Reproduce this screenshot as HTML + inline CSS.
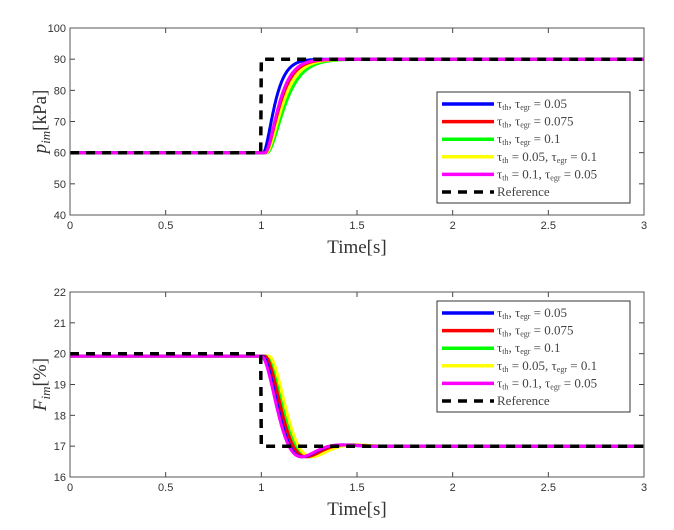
<!DOCTYPE html>
<html><head><meta charset="utf-8"><style>
body{margin:0;background:#fff;}
svg{display:block;font-family:"Liberation Sans",sans-serif;}
.t{font-size:11px;fill:#333;}
.s{font-family:"Liberation Serif",serif;}
</style></head><body>
<svg id="sv" width="674" height="530" viewBox="0 0 674 530">
<rect width="674" height="530" fill="#fff"/>
<g id="g"></g>
</svg>
<script>
(function(){
const NS="http://www.w3.org/2000/svg",G=document.getElementById('g');
function el(n,a,txt){const e=document.createElementNS(NS,n);for(const k in a)e.setAttribute(k,a[k]);if(txt!==undefined)e.textContent=txt;G.appendChild(e);return e;}
const X0=70,X1=644;const xs=t=>X0+t*(X1-X0)/3;
function axes(y0,y1,ymin,ymax,step,ylab,sub,unit){
  const ys=v=>y1-(v-ymin)/(ymax-ymin)*(y1-y0);
  for(let i=0;i<=6;i++){const t=i*0.5;const x=xs(t);el('line',{x1:x,x2:x,y1:y1,y2:y1-5,stroke:'#444'});el('line',{x1:x,x2:x,y1:y0,y2:y0+5,stroke:'#444'});
    el('text',{x:x,y:y1+14,'text-anchor':'middle',class:'t'},String(t));}
  for(let v=ymin;v<=ymax+1e-6;v+=step){const y=ys(v);el('line',{x1:X0,x2:X0+5,y1:y,y2:y,stroke:'#444'});el('line',{x1:X1,x2:X1-5,y1:y,y2:y,stroke:'#444'});
    el('text',{x:X0-4,y:y+4,'text-anchor':'end',class:'t'},String(v));}
  el('text',{x:357,y:y1+38,'text-anchor':'middle',class:'s','font-size':'19','fill':'#333'},'Time[s]');
  const tx=el('text',{transform:'translate(46,'+((y0+y1)/2)+') rotate(-90)','text-anchor':'middle',class:'s','font-size':'19',fill:'#333'});
  tx.innerHTML='<tspan font-style="italic">'+ylab+'</tspan><tspan font-style="italic" font-size="13" dy="4">'+sub+'</tspan><tspan dy="-4">['+unit+']</tspan>';
  return ys;
}
function path(f,ys,color,w,dash){let d='';for(let i=0;i<=900;i++){const t=i*3/900;d+=(i?'L':'M')+xs(t).toFixed(1)+','+ys(f(t)).toFixed(1);}
  const a={d:d,fill:'none',stroke:color,'stroke-width':w};if(dash)a['stroke-dasharray']=dash;el('path',a);}
function legend(y){
  el('rect',{x:437,y:y,width:193,height:111,fill:'#fff',stroke:'#333','stroke-width':1});
  const L=[['#0000ff','τ<tspan font-size="8" dy="2">th</tspan><tspan dy="-2">, τ</tspan><tspan font-size="8" dy="2">egr</tspan><tspan dy="-2"> = 0.05</tspan>'],
  ['#ff0000','τ<tspan font-size="8" dy="2">th</tspan><tspan dy="-2">, τ</tspan><tspan font-size="8" dy="2">egr</tspan><tspan dy="-2"> = 0.075</tspan>'],
  ['#00ff00','τ<tspan font-size="8" dy="2">th</tspan><tspan dy="-2">, τ</tspan><tspan font-size="8" dy="2">egr</tspan><tspan dy="-2"> = 0.1</tspan>'],
  ['#ffff00','τ<tspan font-size="8" dy="2">th</tspan><tspan dy="-2"> = 0.05, τ</tspan><tspan font-size="8" dy="2">egr</tspan><tspan dy="-2"> = 0.1</tspan>'],
  ['#ff00ff','τ<tspan font-size="8" dy="2">th</tspan><tspan dy="-2"> = 0.1, τ</tspan><tspan font-size="8" dy="2">egr</tspan><tspan dy="-2"> = 0.05</tspan>'],
  ['#000','Reference']];
  L.forEach((l,i)=>{const yy=y+12+i*17.6;
    const a={x1:442,x2:494,y1:yy,y2:yy,stroke:l[0],'stroke-width':3.5};if(i==5)a['stroke-dasharray']='9,7';el('line',a);
    const t=el('text',{x:497,y:yy+4,class:'s','font-size':'13',fill:'#444'});t.innerHTML=l[1];});
}
let ys=axes(28,215,40,100,10,'p','im','kPa');
const topS=[['#00ff00',0.055,0.03],['#ffff00',0.05,0.025],['#ff0000',0.045,0.02],['#0000ff',0.035,0.01],['#ff00ff',0.042,0.02]];
topS.forEach(s=>path(t=>{const u=(t-1-s[2])/s[1];if(u<=0)return 60;return 60+30*(1-(1+u)*Math.exp(-u));},ys,s[0],3));
path(t=>t<1?60:90,ys,'#000',3.5,'9,7');
el('rect',{x:X0,y:28,width:X1-X0,height:187,fill:'none',stroke:'#555'});
legend(92);
ys=axes(292,477,16,22,1,'F','im','%');
const botS=[['#00ff00',14,0.03],['#ffff00',14,0.04],['#ff0000',14.5,0.018],['#0000ff',15,0.006],['#ff00ff',15,0.0]];
botS.forEach(s=>path(t=>{const u=t-1-s[2];if(u<=0)return 19.92;const w=s[1],a=w*0.68;
  const g=1-Math.exp(-a*u)*(Math.cos(w*u)+(a/w)*Math.sin(w*u));return 19.92-2.92*g;},ys,s[0],3));
path(t=>t<1?20:17,ys,'#000',3.5,'9,7');
el('rect',{x:X0,y:292,width:X1-X0,height:185,fill:'none',stroke:'#555'});
legend(301);
})();
</script>
</body></html>
